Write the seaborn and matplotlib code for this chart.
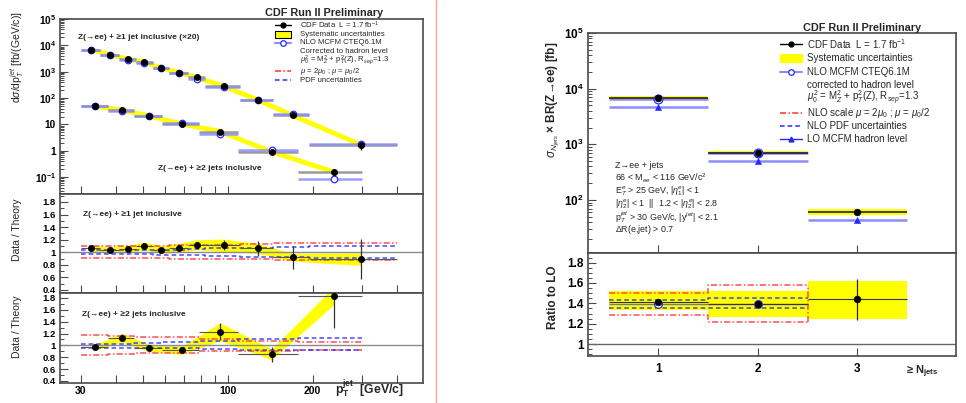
import matplotlib
matplotlib.use("Agg")
import matplotlib.pyplot as plt
from matplotlib.lines import Line2D
from matplotlib.patches import Rectangle
from matplotlib.ticker import FixedLocator, FixedFormatter, MultipleLocator, NullFormatter, LogLocator
import numpy as np
import seaborn as sns

# ---------------- left plot: dsigma/dpT(jet) ----------------
# Z(->ee) + >=1 jet inclusive (cross section shown x20)
j1_edges = [30, 35, 41, 47, 54, 62, 72, 83, 110, 145, 195, 400]
j1_pt = [32.5, 38, 44, 50.5, 58, 67, 77.5, 96.5, 127.5, 170, 297.5]
j1_xsec = [6900, 4460, 3040, 2280, 1390, 933, 604, 284, 86, 22, 1.68]
j1_ratio = [1.06, 1.04, 1.05, 1.10, 1.04, 1.07, 1.12, 1.11, 1.06, 0.92, 0.89]
j1_stat = [0.03, 0.03, 0.03, 0.03, 0.03, 0.04, 0.05, 0.08, 0.12, 0.18, 0.32]
j1_sys = [0.05, 0.05, 0.06, 0.06, 0.06, 0.07, 0.08, 0.10, 0.08, 0.06, 0.10]
j1_scale_hi = [1.10, 1.10, 1.10, 1.10, 1.10, 1.11, 1.11, 1.12, 1.13, 1.14, 1.15]
j1_scale_lo = [0.91, 0.91, 0.91, 0.91, 0.91, 0.90, 0.90, 0.89, 0.89, 0.88, 0.88]
j1_pdf_hi = [1.03, 1.03, 1.03, 1.03, 1.04, 1.04, 1.05, 1.06, 1.07, 1.08, 1.10]
j1_pdf_lo = [0.97, 0.97, 0.97, 0.97, 0.96, 0.96, 0.95, 0.94, 0.93, 0.92, 0.91]

# Z(->ee) + >=2 jets inclusive
j2_edges = [30, 37.5, 46.5, 58.5, 79, 109, 177, 300]
j2_pt = [33.75, 42, 52.5, 68.75, 94, 143, 238.5]
j2_xsec = [48.6, 35.3, 20.9, 10.4, 5.35, 0.92, 0.157]
j2_ratio = [0.97, 1.13, 0.96, 0.92, 1.23, 0.85, 1.84]
j2_stat = [0.05, 0.06, 0.04, 0.05, 0.14, 0.13, 0.55]
j2_sys = [0.05, 0.07, 0.06, 0.07, 0.15, 0.09, 0.15]
j2_scale_hi = [1.17, 1.16, 1.15, 1.14, 1.10, 1.08, 1.06]
j2_scale_lo = [0.84, 0.85, 0.87, 0.88, 0.90, 0.91, 0.92]
j2_pdf_hi = [1.02, 1.03, 1.04, 1.05, 1.07, 1.10, 1.12]
j2_pdf_lo = [0.96, 0.96, 0.95, 0.95, 0.94, 0.93, 0.92]

pt_ticks = [30, 40, 50, 60, 70, 80, 90, 100, 200, 300, 400]
pt_labels = ["30", "", "", "", "", "", "", "100", "200", "", ""]

# ---------------- right plot: sigma vs N_jets ----------------
nj = [1, 2, 3]
nj_xsec = [6900, 710, 60]
nj_sys_lo = [6500, 660, 54]
nj_sys_hi = [7350, 760, 69]
nj_nlo = [6600, 700]
nj_lo = [4680, 500, 43.8]
nj_ratio = [1.41, 1.39, 1.44]
nj_ratio_stat = [0.02, 0.02, 0.20]
nj_ratio_sys_lo = [1.33, 1.27, 1.245]
nj_ratio_sys_hi = [1.52, 1.52, 1.62]
nj_nlo_ratio = [1.39, 1.39]
nj_scale_hi = [1.50, 1.58]
nj_scale_lo = [1.285, 1.215]
nj_pdf_hi = [1.43, 1.45]
nj_pdf_lo = [1.35, 1.35]

sns.set_theme(style="white")
plt.rcParams["font.family"] = ["Liberation Sans", "DejaVu Sans"]
plt.rcParams["mathtext.fontset"] = "custom"
plt.rcParams["mathtext.rm"] = "Liberation Sans"
plt.rcParams["mathtext.it"] = "Liberation Sans:italic"
plt.rcParams["mathtext.bf"] = "Liberation Sans:bold"
plt.rcParams["mathtext.sf"] = "Liberation Sans"

W, H = 966, 403
fig = plt.figure(figsize=(9.66, 4.03), dpi=100)


def box(x0, y0, x1, y1):
    return [x0 / W, 1 - y1 / H, (x1 - x0) / W, (y1 - y0) / H]


def ftext(px, py, s, **kw):
    fig.text(px / W, 1 - py / H, s, **kw)


YELLOW = "#ffff00"
RED = "#ff3030"
BLUE = "#2828ff"
LBLUE = "#8c8cff"
FRAME = "#4a4a4a"
DASHDOT = (0, (4, 1.5, 1, 1.5))
DASH = (0, (3, 2))


def style_axes(ax, fs):
    for sp in ax.spines.values():
        sp.set_color(FRAME)
        sp.set_linewidth(1.2)
        sp.set_visible(True)
    ax.tick_params(which="both", direction="in", left=True, bottom=True,
                   top=False, right=False, colors=FRAME, labelcolor="black",
                   labelsize=fs, pad=3)
    ax.tick_params(which="major", length=6, width=0.8)
    ax.tick_params(which="minor", length=3, width=0.7)
    for lab in ax.get_yticklabels() + ax.get_xticklabels():
        lab.set_fontweight("bold")


def set_pt_axis(ax, labels):
    ax.set_xscale("log")
    ax.set_xlim(25.3, 494)
    ax.xaxis.set_major_locator(FixedLocator(pt_ticks))
    ax.xaxis.set_minor_locator(FixedLocator([]))
    if labels:
        ax.xaxis.set_major_formatter(FixedFormatter(pt_labels))
    else:
        ax.xaxis.set_major_formatter(NullFormatter())
    ax.xaxis.set_minor_formatter(NullFormatter())


def steps(edges, vals):
    return list(edges), list(vals) + [vals[-1]]


def cross_section(ax, edges, pt, xsec, ratio, stat):
    xsec = np.array(xsec)
    nlo = xsec / np.array(ratio)
    err = xsec * np.array(stat) / np.array(ratio)
    lo, hi = edges[:-1], edges[1:]
    ax.plot(pt, xsec, color=YELLOW, lw=3.5, solid_capstyle="butt", zorder=1)
    ax.hlines(xsec, lo, hi, color="#9a9a9a", lw=1.8, zorder=2)
    ax.hlines(nlo, lo, hi, color=LBLUE, lw=1.8, alpha=0.85, zorder=2)
    ax.vlines(pt, xsec - err, xsec + err, color="black", lw=0.9, zorder=3)
    sns.scatterplot(x=pt, y=nlo, ax=ax, marker="o", s=22, color="white",
                    edgecolor=BLUE, linewidth=0.9, zorder=4, legend=False)
    sns.scatterplot(x=pt, y=xsec, ax=ax, marker="o", s=20, color="black",
                    edgecolor="black", linewidth=0.5, zorder=5, legend=False)


def ratio_panel(ax, edges, pt, ratio, stat, sys_, shi, slo, phi, plo):
    ratio = np.array(ratio)
    sys_ = np.array(sys_)
    ax.fill_between(pt, ratio - sys_, ratio + sys_, color=YELLOW, lw=0, zorder=1)
    ax.axhline(1, color="#8a8a8a", lw=1.0, zorder=2)
    for vals, col, ls in [(shi, RED, DASHDOT), (slo, RED, DASHDOT),
                          (phi, BLUE, DASH), (plo, BLUE, DASH)]:
        xs, ys = steps(edges, vals)
        ax.plot(xs, ys, drawstyle="steps-post", color=col, lw=1.1, ls=ls, alpha=0.85, zorder=3)
    ax.hlines(ratio, edges[:-1], edges[1:], color="#555555", lw=0.8, zorder=4)
    ax.vlines(pt, ratio - np.array(stat), ratio + np.array(stat), color="#333333", lw=0.9, zorder=4)
    sns.scatterplot(x=pt, y=ratio, ax=ax, marker="o", s=20, color="black",
                    edgecolor="black", linewidth=0.5, zorder=5, legend=False)
    ax.yaxis.set_minor_locator(MultipleLocator(0.1))


ratio_ticks = [0.4, 0.6, 0.8, 1.0, 1.2, 1.4, 1.6, 1.8]
ratio_labels = ["0.4", "0.6", "0.8", "1", "1.2", "1.4", "1.6", "1.8"]

# ---- left top ----
axL = fig.add_axes(box(60, 19, 423, 194))
cross_section(axL, j1_edges, j1_pt, j1_xsec, j1_ratio, j1_stat)
cross_section(axL, j2_edges, j2_pt, j2_xsec, j2_ratio, j2_stat)
set_pt_axis(axL, False)
axL.set_yscale("log")
axL.set_ylim(0.023, 1e5)
axL.yaxis.set_major_locator(FixedLocator([0.1, 1, 10, 100, 1e3, 1e4, 1e5]))
axL.yaxis.set_minor_locator(LogLocator(base=10, subs=np.arange(2, 10), numticks=20))
axL.yaxis.set_minor_formatter(NullFormatter())
axL.yaxis.set_major_formatter(FixedFormatter(
    [r"$\mathbf{10^{-1}}$", "1", "10", r"$\mathbf{10^{2}}$", r"$\mathbf{10^{3}}$",
     r"$\mathbf{10^{4}}$", r"$\mathbf{10^{5}}$"]))
style_axes(axL, 7.3)

# ---- left ratio panels ----
axM = fig.add_axes(box(60, 194, 423, 293))
ratio_panel(axM, j1_edges, j1_pt, j1_ratio, j1_stat, j1_sys,
            j1_scale_hi, j1_scale_lo, j1_pdf_hi, j1_pdf_lo)
set_pt_axis(axM, False)
axM.set_ylim(0.352, 1.927)
axM.set_yticks(ratio_ticks)
axM.set_yticklabels(ratio_labels)
style_axes(axM, 6.8)

axB = fig.add_axes(box(60, 293, 423, 383))
ratio_panel(axB, j2_edges, j2_pt, j2_ratio, j2_stat, j2_sys,
            j2_scale_hi, j2_scale_lo, j2_pdf_hi, j2_pdf_lo)
set_pt_axis(axB, True)
axB.set_ylim(0.366, 1.884)
axB.set_yticks(ratio_ticks)
axB.set_yticklabels(ratio_labels)
style_axes(axB, 6.8)
axB.tick_params(axis="x", pad=2, labelsize=7.5)

# ---- right top ----
axR = fig.add_axes(box(588, 33, 956, 252.7))
edges_nj = [0.5, 1.5, 2.5, 3.5]
for i, n in enumerate(nj):
    axR.add_patch(Rectangle((edges_nj[i], nj_sys_lo[i]), 1, nj_sys_hi[i] - nj_sys_lo[i],
                            color=YELLOW, lw=0, zorder=1))
axR.hlines(nj_lo, edges_nj[:-1], edges_nj[1:], color=LBLUE, lw=1.8, zorder=2)
axR.hlines(nj_nlo, edges_nj[:2], edges_nj[1:3], color=LBLUE, lw=1.8, zorder=2)
axR.hlines(nj_xsec, edges_nj[:-1], edges_nj[1:], color="#222222", lw=1.2, zorder=3)
sns.scatterplot(x=nj, y=nj_lo, ax=axR, marker="^", s=20, color=BLUE,
                edgecolor=BLUE, zorder=4, legend=False)
sns.scatterplot(x=nj[:2], y=nj_nlo, ax=axR, marker="o", s=40, color="white",
                edgecolor=BLUE, linewidth=0.9, zorder=4, legend=False)
sns.scatterplot(x=nj, y=nj_xsec, ax=axR, marker="o", s=24, color="black",
                edgecolor="black", zorder=5, legend=False)
axR.set_yscale("log")
axR.set_ylim(11.3, 1e5)
axR.set_xlim(0.293, 3.99)
axR.set_xticks(nj)
axR.xaxis.set_major_formatter(NullFormatter())
axR.yaxis.set_major_locator(FixedLocator([1e2, 1e3, 1e4, 1e5]))
axR.yaxis.set_minor_locator(LogLocator(base=10, subs=np.arange(2, 10), numticks=20))
axR.yaxis.set_minor_formatter(NullFormatter())
axR.yaxis.set_major_formatter(FixedFormatter(
    [r"$\mathbf{10^{2}}$", r"$\mathbf{10^{3}}$", r"$\mathbf{10^{4}}$", r"$\mathbf{10^{5}}$"]))
style_axes(axR, 8.5)

# ---- right ratio ----
axRR = fig.add_axes(box(588, 252.7, 956, 356))
for i in range(3):
    axRR.add_patch(Rectangle((edges_nj[i], nj_ratio_sys_lo[i]), 1,
                             nj_ratio_sys_hi[i] - nj_ratio_sys_lo[i],
                             color=YELLOW, lw=0, zorder=1))
axRR.axhline(1, color="#666666", lw=1.0, zorder=2)
for vals, col, ls in [(nj_scale_hi, RED, DASHDOT), (nj_scale_lo, RED, DASHDOT),
                      (nj_pdf_hi, BLUE, DASH), (nj_pdf_lo, BLUE, DASH)]:
    axRR.plot(edges_nj[:3], list(vals) + [vals[-1]], drawstyle="steps-post",
              color=col, lw=1.1, ls=ls, alpha=0.85, zorder=3)
axRR.vlines(edges_nj[2], nj_scale_lo[-1], nj_scale_hi[-1], color=RED, lw=1.1,
            ls=DASHDOT, alpha=0.85, zorder=3)
axRR.hlines(nj_nlo_ratio, edges_nj[:2], edges_nj[1:3], color="#777777", lw=1.0, zorder=3)
axRR.hlines(nj_ratio, edges_nj[:-1], edges_nj[1:], color="#333333", lw=0.8, zorder=4)
axRR.vlines(nj, np.array(nj_ratio) - np.array(nj_ratio_stat),
            np.array(nj_ratio) + np.array(nj_ratio_stat), color="#222222", lw=0.9, zorder=4)
sns.scatterplot(x=nj[:2], y=nj_nlo_ratio, ax=axRR, marker="o", s=30, color="white",
                edgecolor=BLUE, linewidth=0.9, zorder=4, legend=False)
sns.scatterplot(x=nj, y=nj_ratio, ax=axRR, marker="o", s=24, color="black",
                edgecolor="black", zorder=5, legend=False)
axRR.set_xlim(0.293, 3.99)
axRR.set_ylim(0.882, 1.898)
axRR.set_xticks(nj)
axRR.set_xticklabels(["1", "2", "3"])
axRR.set_yticks([1.0, 1.2, 1.4, 1.6, 1.8])
axRR.set_yticklabels(["1", "1.2", "1.4", "1.6", "1.8"])
axRR.yaxis.set_minor_locator(MultipleLocator(0.05))
style_axes(axRR, 8.5)
axRR.tick_params(axis="x", pad=5)

# ---- texts ----
ftext(265, 13.5, "CDF Run II Preliminary", fontsize=7.8, fontweight="bold", va="center")
ftext(803, 28, "CDF Run II Preliminary", fontsize=7.8, fontweight="bold", va="center")
ftext(78, 37, "Z(→ee) + ≥1 jet inclusive (×20)", fontsize=6, fontweight="bold", va="center")
ftext(158, 168, "Z(→ee) + ≥2 jets inclusive", fontsize=6, fontweight="bold", va="center")
ftext(83, 214, "Z(→ee) + ≥1 jet inclusive", fontsize=6, fontweight="bold", va="center")
ftext(82, 314, "Z(→ee) + ≥2 jets inclusive", fontsize=6, fontweight="bold", va="center")
ftext(17, 57, r"d$\sigma$/dp$_T^{jet}$ [fb/(GeV/c)]", fontsize=7.5, rotation=90,
      ha="center", va="center")
ftext(17, 230, "Data / Theory", fontsize=7.5, rotation=90, ha="center", va="center")
ftext(17, 327, "Data / Theory", fontsize=7.5, rotation=90, ha="center", va="center")
ftext(335, 389, r"$\mathbf{p_T^{jet}}$  [GeV/c]", fontsize=8.8, fontweight="bold", va="center")
ftext(553, 100, r"$\sigma_{N_{jets}}$ × BR(Z→ee) [fb]", fontsize=8.5, fontweight="bold",
      rotation=90, ha="center", va="center")
ftext(553, 297, "Ratio to LO", fontsize=8.5, fontweight="bold", rotation=90,
      ha="center", va="center")
ftext(906, 372, r"≥ $\mathbf{N_{jets}}$", fontsize=8, fontweight="bold", va="center")

notes = ["Z→ee + jets", r"66 < M$_{ee}$ < 116 GeV/c$^2$", r"E$_T^e$ > 25 GeV, |$\eta_1^e$| < 1",
         r"|$\eta_2^e$| < 1  ||  1.2 < |$\eta_2^e$| < 2.8",
         r"p$_T^{jet}$ > 30 GeV/c, |y$^{jet}$| < 2.1", r"$\Delta$R(e,jet) > 0.7"]
for k, s in enumerate(notes):
    ftext(615, 165.5 + 12.9 * k, s, fontsize=6.4, va="center")


def legend_rows(x0, x1, xt, rows_y, rows, fs, boxed):
    for py, (kind, label) in zip(rows_y, rows):
        y = 1 - py / H
        xa, xb, xm = x0 / W, x1 / W, (x0 + x1) / 2 / W
        if kind == "data":
            fig.add_artist(Line2D([xa, xb], [y, y], color="black", lw=1))
            fig.add_artist(Line2D([xm], [y], marker="o", ms=3.5, color="black"))
        elif kind == "band":
            fig.add_artist(Rectangle((xa, y - 3.5 / H), xb - xa, 7 / H, facecolor=YELLOW,
                                     edgecolor="black" if boxed else YELLOW, lw=0.8))
        elif kind == "nlo":
            fig.add_artist(Line2D([xa, xb], [y, y], color=LBLUE, lw=1.5))
            fig.add_artist(Line2D([xm], [y], marker="o", ms=4, mfc="white", mec=BLUE, mew=0.9))
        elif kind == "scale":
            fig.add_artist(Line2D([xa, xb], [y, y], color=RED, lw=1.1, ls=DASHDOT))
        elif kind == "pdf":
            fig.add_artist(Line2D([xa, xb], [y, y], color=BLUE, lw=1.1, ls=DASH))
        elif kind == "lo":
            fig.add_artist(Line2D([xa, xb], [y, y], color=BLUE, lw=1))
            fig.add_artist(Line2D([xm], [y], marker="^", ms=3.5, color=BLUE))
        fig.text(xt / W, y, label, fontsize=fs, va="center")


legend_rows(275, 291, 300, [25.3, 34.1, 42.9, 51.5, 60.3, 71.3, 80.0], [
    ("data", r"CDF Data  L = 1.7 fb$^{-1}$"),
    ("band", "Systematic uncertainties"),
    ("nlo", "NLO MCFM CTEQ6.1M"),
    ("", "Corrected to hadron level"),
    ("", r"$\mu_0^2$ = M$_Z^2$ + p$_T^2$(Z), R$_{sep}$=1.3"),
    ("scale", r"$\mu$ = 2$\mu_0$ ; $\mu$ = $\mu_0$/2"),
    ("pdf", "PDF uncertainties"),
], 5.6, True)

legend_rows(780, 802, 807, [44.3, 58.0, 71.7, 85.2, 98.3, 112.8, 126.0, 139.2], [
    ("data", r"CDF Data  L = 1.7 fb$^{-1}$"),
    ("band", "Systematic uncertainties"),
    ("nlo", "NLO MCFM CTEQ6.1M"),
    ("", "corrected to hadron level"),
    ("", r"$\mu_0^2$ = M$_Z^2$ + p$_T^2$(Z), R$_{sep}$=1.3"),
    ("scale", r"NLO scale $\mu$ = 2$\mu_0$ ; $\mu$ = $\mu_0$/2"),
    ("pdf", "NLO PDF uncertainties"),
    ("lo", "LO MCFM hadron level"),
], 7.0, False)

fig.add_artist(Line2D([436 / W, 436 / W], [0, 1], color="#f2a0a0", lw=1))

fig.savefig("out.png", dpi=100, facecolor="white")
